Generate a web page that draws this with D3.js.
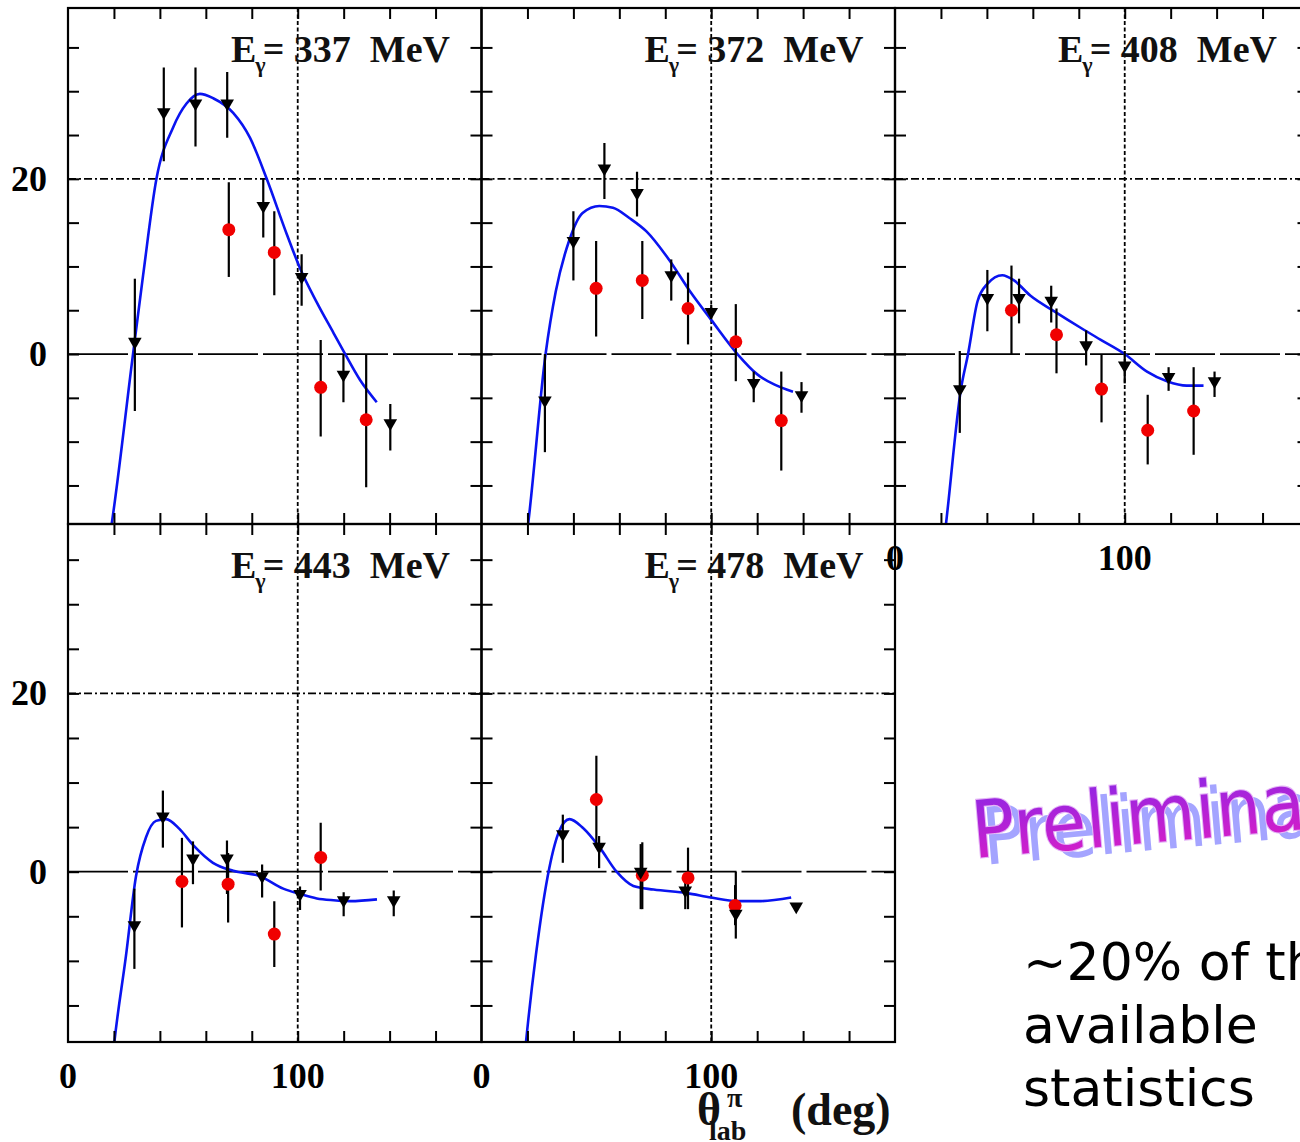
<!DOCTYPE html>
<html><head><meta charset="utf-8">
<script src="https://cdn.jsdelivr.net/npm/d3@7"></script>
<style>body{margin:0;background:#fff}svg{display:block}</style>
</head><body>
<svg id="c" width="1300" height="1142"></svg>
<script>
// ---------------- data ----------------
const energies = [337, 372, 408, 443, 478];
const xDomain = [0, 180];
const xTicks = [20, 40, 60, 80, 100, 120, 140, 160];
const yTicks = [-15, -10, -5, 0, 5, 10, 15, 20, 25, 30, 35];
const xTickLabels = [0, 100];
const yTickLabels = [0, 20];

// black triangles: angle, value, error-bar high end, error-bar low end
const blackTheta = [
  [29.1, 41.7, 55.5, 69.3, 85.0, 101.7, 119.9, 140.3],
  [27.6, 40.0, 53.5, 67.7, 82.6, 100.0, 118.5, 139.3],
  [28.2, 40.2, 54.0, 68.0, 83.2, 100.0, 119.1, 139.1],
  [28.9, 41.3, 54.4, 69.2, 84.5, 101.0, 120.0, 141.8],
  [35.4, 51.2, 69.3, 88.7, 110.7, 137.0]
];
const blackValue = [
  [1.4, 27.6, 28.6, 28.6, 16.9, 8.8, -2.35, -7.9],
  [-5.3, 12.9, 21.2, 18.4, 9.0, 4.8, -3.3, -4.7],
  [-4.0, 6.4, 6.4, 6.1, 1.0, -1.3, -2.6, -3.1],
  [-6.0, 6.2, 1.5, 1.5, -0.5, -2.5, -3.2, -3.2],
  [4.2, 2.8, 0.0, -2.1, -4.7, -3.9]
];
const blackHigh = [
  [8.6, 32.7, 32.7, 32.2, 20.0, 11.4, 0.0, -5.7],
  [0.0, 16.3, 24.1, 20.8, 10.8, 5.6, -2.0, -3.2],
  [0.35, 9.6, 8.6, 7.8, 2.7, 0.35, -1.5, -2.0],
  [-1.9, 9.1, 3.4, 3.5, 0.8, -1.65, -2.3, -2.1],
  [6.4, 4.0, 3.1, -0.4, 0.0, -3.9]
];
const blackLow = [
  [-6.5, 22.0, 23.7, 24.7, 13.3, 5.5, -5.5, -11.0],
  [-11.2, 8.4, 17.7, 15.7, 6.1, 4.0, -5.5, -6.7],
  [-9.0, 2.6, 3.5, 3.6, -1.3, -3.35, -4.2, -4.9],
  [-10.9, 2.7, -1.4, -2.5, -2.9, -4.3, -5.0, -5.0],
  [1.0, 0.4, -4.2, -4.2, -7.5, -3.9]
];

// red circles
const redTheta = [
  [70.0, 89.8, 110.0, 129.8],
  [49.9, 70.0, 89.9, 110.7, 130.5],
  [50.7, 70.3, 89.9, 110.0, 130.0],
  [49.6, 69.7, 89.8, 110.0],
  [50.0, 70.0, 89.9, 110.4]
];
const redValue = [
  [14.2, 11.6, -3.8, -7.5],
  [7.5, 8.4, 5.2, 1.4, -7.6],
  [5.0, 2.2, -4.0, -8.7, -6.5],
  [-1.1, -1.4, -7.0, 1.6],
  [8.1, -0.4, -0.7, -3.8]
];
const redHigh = [
  [19.6, 16.3, 1.6, 0.0],
  [12.9, 12.9, 9.3, 5.7, -2.0],
  [10.1, 5.2, 0.0, -4.65, -1.5],
  [3.8, 2.1, -3.3, 5.5],
  [13.0, 3.3, 2.7, -1.5]
];
const redLow = [
  [8.8, 6.7, -9.4, -15.2],
  [2.0, 4.0, 1.1, -3.1, -13.3],
  [0.0, -2.2, -7.8, -12.6, -11.5],
  [-6.25, -5.7, -10.7, -2.1],
  [2.7, -4.2, -4.2, -6.0]
];

// blue model curves
const curveTheta = [
  [17.5, 18.9, 28.3, 32.7, 38.5, 45.8, 51.6, 57.4, 63.2, 72.0, 79.2, 86.5, 95.2, 101.0, 108.3, 115.6, 120.0, 127.2, 134.4],
  [19.0, 20.2, 27.9, 32.3, 38.1, 44.0, 51.3, 57.2, 64.5, 71.8, 82.1, 90.9, 100.0, 111.4, 120.2, 127.6, 135.6],
  [21.0, 22.1, 28.7, 31.8, 35.9, 40.2, 46.7, 51.8, 59.0, 69.2, 80.8, 89.4, 100.0, 109.7, 118.4, 127.0, 134.3],
  [19.0, 20.1, 25.2, 29.6, 34.0, 38.3, 42.7, 48.5, 54.4, 63.1, 71.9, 83.5, 93.7, 101.0, 108.3, 115.6, 122.9, 134.5],
  [18.3, 19.3, 23.7, 29.5, 33.9, 38.3, 44.2, 51.5, 58.8, 66.1, 74.9, 89.5, 100.0, 111.4, 121.6, 134.8]
];
const curveValue = [
  [-22.0, -19.6, 0.0, 9.0, 20.0, 25.9, 28.6, 29.7, 29.2, 27.5, 24.7, 20.0, 13.7, 9.8, 5.9, 2.4, 0.3, -3.0, -5.5],
  [-22.0, -19.6, 0.0, 7.1, 12.9, 16.1, 16.9, 16.7, 15.5, 14.0, 10.6, 7.1, 3.9, 0.0, -2.35, -3.5, -4.3],
  [-22.0, -19.6, -4.0, 0.0, 6.0, 8.0, 9.0, 8.4, 6.65, 4.9, 3.0, 1.65, 0.0, -2.0, -3.1, -3.6, -3.6],
  [-22.0, -19.3, -9.5, -0.5, 3.9, 5.7, 5.9, 4.8, 3.0, 1.0, 0.1, -0.5, -1.9, -2.5, -3.0, -3.2, -3.3, -3.1],
  [-22.0, -19.3, -9.3, 0.4, 4.6, 5.9, 4.9, 2.7, 0.0, -1.6, -2.0, -2.4, -2.9, -3.3, -3.3, -2.9]
];

// ---------------- layout ----------------
const svg = d3.select('#c');
const defs = svg.append('defs');
const PW = 413.5, X0 = 68;
const rowTop = [8, 524], rowBottom = [524, 1042];
const rowDomain = [[-19.4, 39.5], [-19.1, 39.0]];
const panelCol = [0, 1, 2, 0, 1], panelRow = [0, 0, 0, 1, 1];
const serif = '"Liberation Serif","Times New Roman",serif';
const TL = 11;

energies.forEach((E, i) => {
  const L = X0 + panelCol[i] * PW, R = L + PW;
  const T = rowTop[panelRow[i]], B = rowBottom[panelRow[i]];
  const x = d3.scaleLinear().domain(xDomain).range([L, R]);
  const y = d3.scaleLinear().domain(rowDomain[panelRow[i]]).range([B, T]);
  const g = svg.append('g');
  defs.append('clipPath').attr('id', 'clip' + i).append('rect')
    .attr('x', L).attr('y', T).attr('width', PW).attr('height', B - T);
  const inner = g.append('g').attr('clip-path', `url(#clip${i})`);

  // reference lines
  inner.append('line').attr('x1', L).attr('x2', R).attr('y1', y(20)).attr('y2', y(20))
    .attr('stroke', '#000').attr('stroke-width', 1.8).attr('stroke-dasharray', '8,3,2,3');
  inner.append('line').attr('x1', L).attr('x2', R).attr('y1', y(0)).attr('y2', y(0))
    .attr('stroke', '#000').attr('stroke-width', 1.8).attr('stroke-dasharray', '60,5');
  inner.append('line').attr('x1', x(100)).attr('x2', x(100)).attr('y1', T).attr('y2', B)
    .attr('stroke', '#000').attr('stroke-width', 1.8).attr('stroke-dasharray', '4,2.5');

  // model curve
  const line = d3.line().x(d => x(d[0])).y(d => y(d[1])).curve(d3.curveMonotoneX);
  inner.append('path').datum(d3.zip(curveTheta[i], curveValue[i]))
    .attr('d', line).attr('fill', 'none').attr('stroke', '#0a14f0').attr('stroke-width', 2.6);

  // error bars
  const bars = d3.zip(blackTheta[i], blackHigh[i], blackLow[i])
    .concat(d3.zip(redTheta[i], redHigh[i], redLow[i]));
  inner.selectAll('line.err').data(bars).join('line').attr('class', 'err')
    .attr('x1', d => x(d[0])).attr('x2', d => x(d[0]))
    .attr('y1', d => y(d[1])).attr('y2', d => y(d[2]))
    .attr('stroke', '#000').attr('stroke-width', 2.2);

  // red circles
  inner.selectAll('circle.red').data(d3.zip(redTheta[i], redValue[i])).join('circle')
    .attr('class', 'red').attr('cx', d => x(d[0])).attr('cy', d => y(d[1]))
    .attr('r', 6.5).attr('fill', '#f00000');

  // black triangles (pointing down)
  const tri = d3.symbol(d3.symbolTriangle, 80);
  inner.selectAll('path.blk').data(d3.zip(blackTheta[i], blackValue[i])).join('path')
    .attr('class', 'blk').attr('d', tri)
    .attr('transform', d => `translate(${x(d[0])},${y(d[1])}) rotate(180)`)
    .attr('fill', '#000');

  // frame
  g.append('rect').attr('x', L).attr('y', T).attr('width', PW).attr('height', B - T)
    .attr('fill', 'none').attr('stroke', '#000').attr('stroke-width', 2.2);

  // ticks on all four sides (inward)
  const tk = sel => { sel.select('.domain').remove(); sel.selectAll('line').attr('stroke', '#000').attr('stroke-width', 2); sel.selectAll('text').remove(); };
  g.append('g').attr('transform', `translate(0,${B})`)
    .call(d3.axisBottom(x).tickValues(xTicks).tickSize(-TL)).call(tk);
  g.append('g').attr('transform', `translate(0,${T})`)
    .call(d3.axisTop(x).tickValues(xTicks).tickSize(-TL)).call(tk);
  g.append('g').attr('transform', `translate(${L},0)`)
    .call(d3.axisLeft(y).tickValues(yTicks).tickSize(-TL)).call(tk);
  g.append('g').attr('transform', `translate(${R},0)`)
    .call(d3.axisRight(y).tickValues(yTicks).tickSize(-TL)).call(tk);

  // tick labels
  if (i >= 2) {
    g.selectAll('text.xl').data(xTickLabels).join('text').attr('class', 'xl')
      .attr('x', d => x(d)).attr('y', B + 46).attr('text-anchor', 'middle')
      .attr('font-family', serif).attr('font-weight', 'bold').attr('font-size', 36)
      .text(d => d);
  }
  if (panelCol[i] === 0) {
    g.selectAll('text.yl').data(yTickLabels).join('text').attr('class', 'yl')
      .attr('x', L - 21).attr('y', d => y(d) + 12).attr('text-anchor', 'end')
      .attr('font-family', serif).attr('font-weight', 'bold').attr('font-size', 36)
      .text(d => d);
  }

  // title
  const t = g.append('text').attr('x', L + 163).attr('y', T + 54)
    .attr('font-family', serif).attr('font-weight', 'bold').attr('font-size', 38)
    .attr('fill', '#111').style('white-space', 'pre');
  t.append('tspan').text('E');
  t.append('tspan').attr('font-size', 22).attr('dy', 10).attr('dx', -1).text('γ');
  t.append('tspan').attr('dy', -10).attr('dx', -3).text('= ' + E + '  MeV');
});

// axis title
const at = svg.append('text').attr('font-family', serif).attr('font-weight', 'bold').attr('fill', '#111');
at.append('tspan').attr('x', 697).attr('y', 1125).attr('font-size', 46).text('θ');
at.append('tspan').attr('x', 709).attr('y', 1140).attr('font-size', 28).text('lab');
at.append('tspan').attr('x', 727).attr('y', 1107).attr('font-size', 28).text('π');
at.append('tspan').attr('x', 791).attr('y', 1125).attr('font-size', 46).text('(deg)');

// "Preliminary" stamp
const grad = defs.append('linearGradient').attr('id', 'pg').attr('x1', 0).attr('y1', 0).attr('x2', 0).attr('y2', 1);
grad.append('stop').attr('offset', '0%').attr('stop-color', '#8a28e6');
grad.append('stop').attr('offset', '100%').attr('stop-color', '#e01cc4');
const pre = svg.append('g').attr('transform', 'translate(974,858) rotate(-5) scale(1,1.1)')
  .attr('font-family', '"DejaVu Sans", sans-serif').attr('font-size', 72);
pre.append('text').attr('x', 10).attr('y', 7).attr('fill', '#a4a4ff').text('Preliminary');
pre.append('text').attr('x', 0).attr('y', 0).attr('fill', 'url(#pg)')
  .attr('stroke', '#e4b4f6').attr('stroke-width', 2).attr('paint-order', 'stroke').text('Preliminary');

// note
const note = ['~20% of the', 'available', 'statistics'];
svg.selectAll('text.note').data(note).join('text').attr('class', 'note')
  .attr('x', 1023).attr('y', (d, k) => 980 + k * 63)
  .attr('font-family', '"DejaVu Sans", sans-serif').attr('font-size', 52).attr('fill', '#000')
  .text(d => d);
</script>
</body></html>
